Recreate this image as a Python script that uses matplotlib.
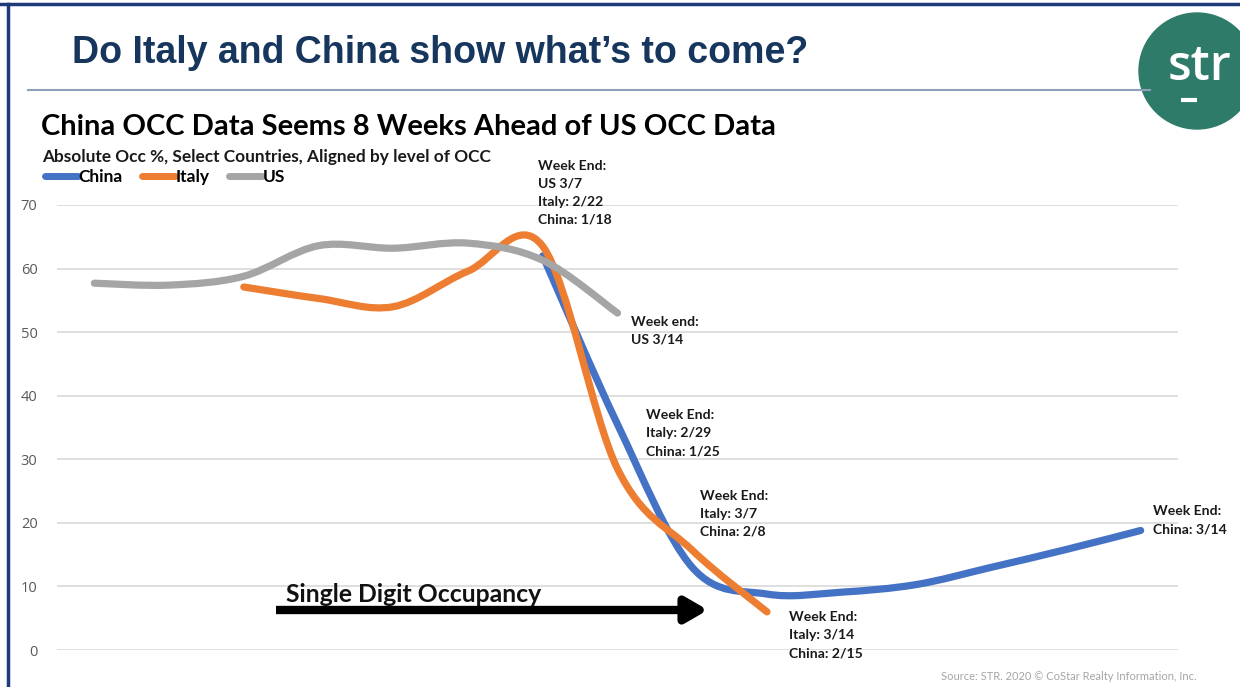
import numpy as np
import matplotlib
matplotlib.use("Agg")
from matplotlib import pyplot as plt
from matplotlib.path import Path
from matplotlib.patches import PathPatch, Circle
from matplotlib.lines import Line2D

# weekly occupancy (%), aligned by level of OCC
weeks = list(range(15))
us_idx = [0, 1, 2, 3, 4, 5, 6, 7]
us_occ = [57.7, 57.4, 58.8, 63.6, 63.2, 64.0, 61.3, 53.0]
italy_idx = [2, 3, 4, 5, 6, 7, 8, 9]
italy_occ = [57.1, 55.3, 54.0, 59.6, 63.5, 28.5, 15.7, 6.0]
china_idx = [6, 7, 8, 9, 10, 11, 12, 13, 14]
china_occ = [62.0, 35.5, 13.0, 8.8, 9.1, 10.3, 13.0, 15.8, 18.8]

y_ticks = [0, 10, 20, 30, 40, 50, 60, 70]

BLUE = "#4472C4"
ORANGE = "#ED7D31"
GRAY = "#A5A5A5"
TITLE_BLUE = "#17365D"
W, H = 1240, 687
FONT = ["Lato", "DejaVu Sans"]


def px(x, y):
    return x / W, 1 - y / H


def smooth_path(xs, ys):
    # Excel-like smoothed line: cubic bezier through every point
    pts = np.column_stack([xs, ys]).astype(float)
    n = len(pts)
    verts = [pts[0]]
    codes = [Path.MOVETO]
    for i in range(n - 1):
        p0 = pts[i - 1] if i > 0 else pts[i]
        p1, p2 = pts[i], pts[i + 1]
        p3 = pts[i + 2] if i + 2 < n else pts[i + 1]
        c1 = p1 + (p2 - p0) / 6
        c2 = p2 - (p3 - p1) / 6
        verts += [c1, c2, p2]
        codes += [Path.CURVE4] * 3
    return Path(verts, codes)


fig = plt.figure(figsize=(W / 100, H / 100), dpi=100, facecolor="white")

ax = fig.add_axes([57 / W, 1 - 650 / H, 1121 / W, 445 / H])
ax.set_xlim(-0.5, 14.5)
ax.set_ylim(0, 70)
ax.set_yticks(y_ticks)
ax.set_xticks([])
for s in ax.spines.values():
    s.set_visible(False)
ax.grid(axis="y", color="#D9D9D9", lw=1.2)
ax.set_axisbelow(True)
ax.tick_params(axis="y", length=0, pad=14, labelsize=10.5, labelcolor="#595959")
for lab in ax.get_yticklabels():
    lab.set_family(["Open Sans", "DejaVu Sans"])

for xs, ys, c in [(china_idx, china_occ, BLUE), (italy_idx, italy_occ, ORANGE), (us_idx, us_occ, GRAY)]:
    patch = PathPatch(smooth_path(xs, ys), facecolor="none", edgecolor=c, lw=5.2,
                      capstyle="round", joinstyle="round", clip_on=False, zorder=3)
    ax.add_patch(patch)

# annotations
notes = [
    ((538, 160), "Week End:\nUS 3/7\nItaly: 2/22\nChina: 1/18"),
    ((631, 316), "Week end:\nUS 3/14"),
    ((646, 409), "Week End:\nItaly: 2/29\nChina: 1/25"),
    ((700, 490), "Week End:\nItaly: 3/7\nChina: 2/8"),
    ((789, 611), "Week End:\nItaly: 3/14\nChina: 2/15"),
    ((1153, 505), "Week End:\nChina: 3/14"),
]
for (x, y), t in notes:
    fig.text(*px(x, y), t, ha="left", va="top", fontsize=10.1, fontweight="bold",
             family=FONT, color="#1a1a1a", linespacing=1.6)

# single digit arrow
ax.annotate("", xy=px(708, 610), xytext=px(276, 610), xycoords="figure fraction",
            textcoords="figure fraction",
            arrowprops=dict(arrowstyle="-|>,head_length=1.3,head_width=0.75", lw=6, color="black",
                            shrinkA=0, shrinkB=0, capstyle="butt"))
fig.text(*px(286, 594), "Single Digit Occupancy", ha="left", va="center", fontsize=17.8,
         fontweight="bold", family=FONT, color="#111111")

# titles
fig.text(*px(72, 53), "Do Italy and China show what\u2019s to come?", ha="left", va="center",
         fontsize=27, fontweight="bold", family=["Liberation Sans", "DejaVu Sans"], color=TITLE_BLUE)
fig.add_artist(Line2D([28 / W, 1150 / W], [1 - 90 / H] * 2, color="#8EA0BA", lw=1.5))
fig.text(*px(41, 127), "China OCC Data Seems 8 Weeks Ahead of US OCC Data", ha="left", va="center",
         fontsize=21, fontweight="bold", family=FONT, color="black")
fig.text(*px(42, 157), "Absolute Occ %, Select Countries, Aligned by level of OCC", ha="left",
         va="center", fontsize=12.4, fontweight="bold", family=FONT, color="#1a1a1a")

handles = [Line2D([], [], color=c, lw=5, solid_capstyle="round") for c in (BLUE, ORANGE, GRAY)]
leg = fig.legend(handles, ["China", "Italy", "US"], loc="center left", bbox_to_anchor=px(36, 177),
                 ncol=3, frameon=False, handlelength=1.9, handletextpad=0.05, columnspacing=1.1,
                 prop=dict(family=FONT, weight="bold", size=12.5), borderpad=0)

fig.text(*px(1197, 677), "Source: STR. 2020 \u00a9 CoStar Realty Information, Inc.", ha="right",
         va="center", fontsize=8, family=FONT, color="#A6A6A6")

# logo
lax = fig.add_axes([1120 / W, 1 - 140 / H, 120 / W, 140 / H])
lax.set_xlim(1120, 1240)
lax.set_ylim(140, 0)
lax.set_aspect("equal")
lax.axis("off")
lax.add_patch(Circle((1197, 71), 58, color="#2E7B69", clip_on=False))
lax.text(1199, 68, "str", color="white", ha="center", va="center", fontsize=35,
         family=["Open Sans", "DejaVu Sans"], fontweight="semibold")
lax.plot([1181, 1197], [100, 100], color="white", lw=3, solid_capstyle="butt")

# slide border
fig.add_artist(Line2D([0, 1], [1 - 4 / H] * 2, color="#1F3A7A", lw=2.5))
fig.add_artist(Line2D([8 / W] * 2, [0, 1 - 4 / H], color="#1F3A7A", lw=2.5))

fig.savefig("out.png", dpi=100, facecolor="white")
